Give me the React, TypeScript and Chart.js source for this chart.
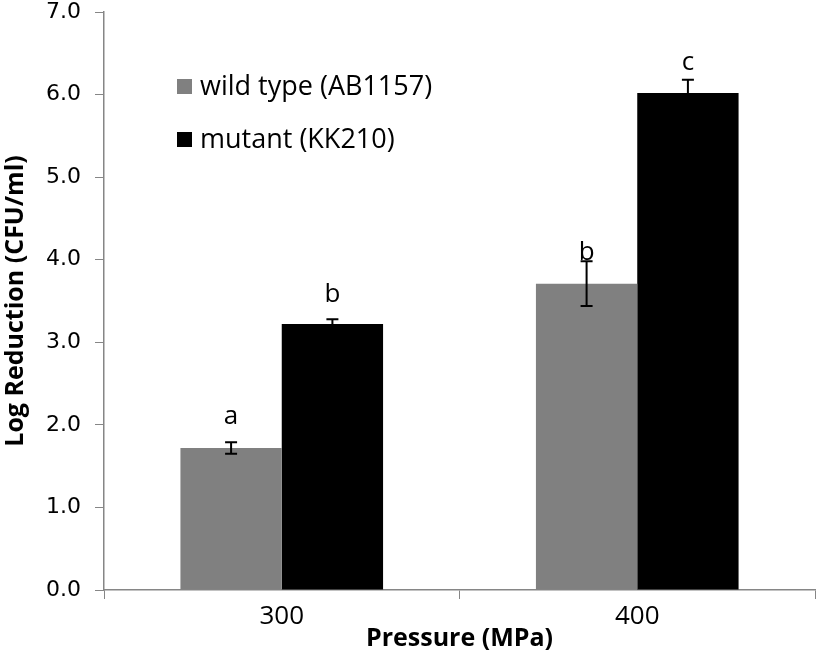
import React, { useEffect, useRef } from "react";
import { Chart, registerables } from "chart.js";

Chart.register(...registerables);

const categories = ["300", "400"];
const wildType = [1.72, 3.71];
const wildErr = [0.07, 0.27];
const mutant = [3.22, 6.02];
const mutantErr = [0.06, 0.16];
const wildLetters = ["a", "b"];
const mutantLetters = ["b", "c"];
const wildLetterY = [2.01, 4.0];
const mutantLetterY = [3.49, 6.3];
const yTicks = [0, 1, 2, 3, 4, 5, 6, 7];

const FONT = "'Open Sans', sans-serif";

const overlayPlugin = {
  id: "overlay",
  afterDatasetsDraw(chart: any) {
    const ctx = chart.ctx;
    const y = chart.scales.y;
    const errs = [wildErr, mutantErr];
    const letters = [wildLetters, mutantLetters];
    const letterY = [wildLetterY, mutantLetterY];
    ctx.save();
    chart.data.datasets.forEach((ds: any, di: number) => {
      const meta = chart.getDatasetMeta(di);
      meta.data.forEach((bar: any, i: number) => {
        const v = ds.data[i];
        const e = errs[di][i];
        const x = bar.x;
        const yt = y.getPixelForValue(v + e);
        const yb = y.getPixelForValue(v - e);
        ctx.strokeStyle = "#000";
        ctx.lineWidth = 2;
        ctx.beginPath();
        ctx.moveTo(x, yt);
        ctx.lineTo(x, yb);
        ctx.moveTo(x - 6, yt);
        ctx.lineTo(x + 6, yt);
        ctx.moveTo(x - 6, yb);
        ctx.lineTo(x + 6, yb);
        ctx.stroke();
        ctx.fillStyle = "#000";
        ctx.font = `26px ${FONT}`;
        ctx.textAlign = "center";
        ctx.textBaseline = "alphabetic";
        ctx.fillText(letters[di][i], x, y.getPixelForValue(letterY[di][i]));
      });
    });
    // legend
    const items = chart.data.datasets.map((ds: any) => ({ label: ds.label, color: ds.backgroundColor }));
    items.forEach((it: any, i: number) => {
      const cy = 87 + i * 53;
      ctx.fillStyle = it.color;
      ctx.fillRect(177, cy - 8, 15, 15);
      ctx.fillStyle = "#000";
      ctx.font = `27px ${FONT}`;
      ctx.textAlign = "left";
      ctx.textBaseline = "middle";
      ctx.fillText(it.label, 200, cy);
    });
    ctx.restore();
  },
};

export default function App() {
  const ref = useRef<HTMLCanvasElement>(null);
  useEffect(() => {
    document.body.style.margin = "0";
    const chart = new Chart(ref.current!, {
      type: "bar",
      data: {
        labels: categories,
        datasets: [
          { label: "wild type (AB1157)", data: wildType, backgroundColor: "#808080" },
          { label: "mutant (KK210)", data: mutant, backgroundColor: "#000000" },
        ],
      },
      plugins: [overlayPlugin],
      options: {
        animation: false,
        responsive: false,
        layout: { padding: { top: 0, right: 1, left: 0, bottom: 0 } },
        plugins: { legend: { display: false }, tooltip: { enabled: false } },
        datasets: { bar: { categoryPercentage: 0.57, barPercentage: 1.0 } },
        scales: {
          x: {
            offset: true,
            grid: { display: true, offset: true, drawOnChartArea: false, drawTicks: true, tickLength: 9, color: "#868686" },
            border: { display: true, color: "#868686", width: 1.5 },
            ticks: { color: "#000", font: { family: FONT, size: 26 }, padding: 2 },
            title: { display: true, text: "Pressure (MPa)", color: "#000", font: { family: FONT, size: 25, weight: "bold" }, padding: { top: 0, bottom: 0 } },
            afterFit: (s: any) => { s.height = 64; s.paddingLeft = 0; s.paddingRight = 0; },
          },
          y: {
            min: 0,
            max: 7,
            afterBuildTicks: (s: any) => { s.ticks = yTicks.map((v) => ({ value: v })); },
            grid: { display: true, drawOnChartArea: false, drawTicks: true, tickLength: 9, color: "#868686" },
            border: { display: true, color: "#868686", width: 1.5 },
            ticks: { color: "#000", font: { family: "'DejaVu Sans', sans-serif", size: 22 }, padding: 14, callback: (v: any) => Number(v).toFixed(1) },
            title: { display: true, text: "Log Reduction (CFU/ml)", color: "#000", font: { family: FONT, size: 25, weight: "bold" }, padding: { top: 1, bottom: 0 } },
            afterFit: (s: any) => { s.width = 104; s.paddingTop = 12; s.paddingBottom = 0; },
          },
        },
      },
    });
    return () => chart.destroy();
  }, []);
  return (
    <div style={{ width: 816, height: 654 }}>
      <canvas ref={ref} width={816} height={654} style={{ display: "block" }} />
    </div>
  );
}
